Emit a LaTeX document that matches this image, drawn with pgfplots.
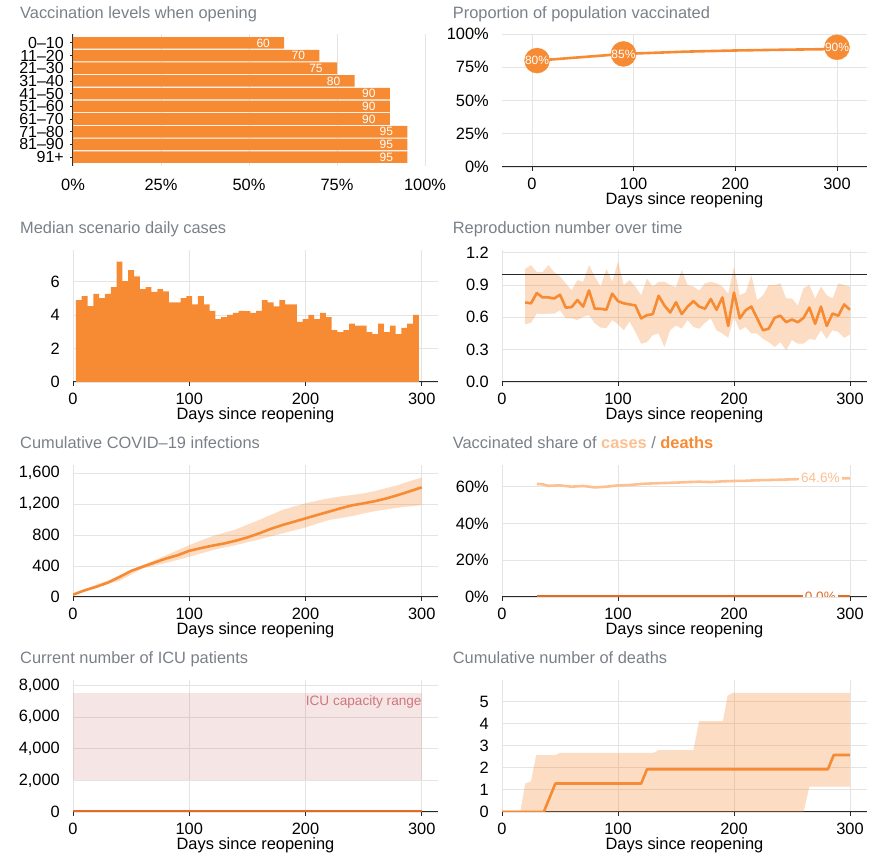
\documentclass[border=0pt]{standalone}
\usepackage{fontspec}
\setmainfont{Liberation Sans}
\usepackage{pgfplots}
\usepackage{pgfplotstable}
\pgfplotsset{compat=1.18}
\usepgfplotslibrary{fillbetween}

\definecolor{orng}{RGB}{246,139,52}
\definecolor{deathorng}{RGB}{226,108,36}
\definecolor{lightorng}{RGB}{252,192,145}
\definecolor{titlegray}{RGB}{122,128,136}
\definecolor{gridgray}{RGB}{228,228,228}
\definecolor{axisdark}{RGB}{40,40,40}
\definecolor{icufill}{RGB}{196,96,96}
\definecolor{icutext}{RGB}{205,118,124}

\newcommand{\mainsize}{\fontsize{16.4}{17}\selectfont}
\newcommand{\agesize}{\fontsize{16}{16}\selectfont}
\newcommand{\valsize}{\fontsize{12}{13}\selectfont}
\newcommand{\notesize}{\fontsize{13.6}{15}\selectfont}

% median scenario daily cases, 5-day bins (left edge, cases)
\pgfplotstableread{
x y
2.5 4.90
7.5 5.14
12.5 4.54
17.5 5.28
22.5 5.02
27.5 5.28
32.5 5.68
37.5 7.20
42.5 6.04
47.5 6.70
52.5 6.32
57.5 5.56
62.5 5.68
67.5 5.40
72.5 5.56
77.5 5.42
82.5 4.76
87.5 4.76
92.5 5.02
97.5 5.14
102.5 4.64
107.5 5.14
112.5 4.64
117.5 4.26
122.5 3.76
127.5 3.88
132.5 4.02
137.5 4.14
142.5 4.26
147.5 4.24
152.5 4.14
157.5 4.26
162.5 4.90
167.5 4.76
172.5 4.52
177.5 4.90
182.5 4.64
187.5 4.64
192.5 3.60
197.5 3.76
202.5 4.02
207.5 3.76
212.5 4.14
217.5 3.88
222.5 3.10
227.5 2.98
232.5 3.10
237.5 3.50
242.5 3.38
247.5 3.38
252.5 2.98
257.5 2.86
262.5 3.50
267.5 2.98
272.5 3.38
277.5 2.86
282.5 3.24
287.5 3.50
292.5 4.02
297.5 4.02
}\dailycases

% reproduction number: lower bound, median, upper bound
\pgfplotstableread{
day lo med hi
20 0.535 0.738 1.050
25 0.550 0.730 1.085
30 0.635 0.825 1.020
35 0.630 0.785 1.020
40 0.635 0.785 1.085
45 0.635 0.775 1.020
50 0.665 0.810 0.980
55 0.590 0.690 0.915
60 0.590 0.695 0.850
65 0.575 0.760 0.945
70 0.605 0.700 0.930
75 0.620 0.850 1.085
80 0.545 0.680 0.980
85 0.505 0.680 0.885
90 0.500 0.670 1.050
95 0.575 0.820 0.930
100 0.535 0.750 1.120
105 0.480 0.730 0.900
110 0.560 0.720 0.945
115 0.465 0.710 0.885
120 0.355 0.590 0.805
125 0.370 0.620 0.960
130 0.435 0.630 0.885
135 0.450 0.800 0.930
140 0.325 0.710 0.930
145 0.480 0.645 0.900
150 0.525 0.740 0.880
155 0.495 0.630 1.040
160 0.575 0.700 0.900
165 0.510 0.750 0.885
170 0.495 0.700 0.850
175 0.550 0.680 0.915
180 0.590 0.770 0.930
185 0.480 0.670 0.915
190 0.450 0.785 0.885
195 0.410 0.520 0.820
200 0.600 0.830 1.070
205 0.480 0.590 0.805
210 0.510 0.665 0.830
215 0.450 0.700 0.990
220 0.450 0.590 0.760
225 0.400 0.480 0.805
230 0.370 0.495 0.900
235 0.325 0.595 0.900
240 0.370 0.615 0.915
245 0.295 0.555 0.775
250 0.390 0.580 0.775
255 0.355 0.555 0.710
260 0.355 0.595 0.870
265 0.400 0.690 0.900
270 0.390 0.540 0.775
275 0.480 0.700 0.885
280 0.400 0.520 0.805
285 0.480 0.635 0.775
290 0.465 0.615 0.915
295 0.410 0.720 0.900
300 0.440 0.670 0.885
}\repro

% cumulative infections: lower bound, median, upper bound
\pgfplotstableread{
day lo med hi
0 22 30 45
10 70 86 95
20 120 132 160
30 170 185 215
40 208 259 270
50 290 337 345
60 368 392 411
70 405 445 475
80 441 497 540
90 480 540 605
100 519 597 670
110 562 632 730
120 605 664 787
130 640 692 830
140 670 728 873
150 707 770 935
160 744 822 995
170 783 880 1060
180 822 930 1124
190 860 973 1170
200 899 1016 1211
210 947 1060 1245
220 995 1103 1276
230 1020 1146 1300
240 1046 1185 1319
250 1080 1211 1340
260 1111 1240 1371
270 1133 1276 1410
280 1155 1320 1449
290 1172 1368 1500
300 1189 1418 1544
}\cuminf

% vaccinated share of cases (%)
\pgfplotstableread{
day share
30 61.5
35 61.3
40 60.5
50 60.7
60 60.0
70 60.4
80 59.6
90 60.0
100 60.7
110 60.9
120 61.5
130 61.8
140 62.0
150 62.2
160 62.5
170 62.7
180 62.5
190 62.9
200 63.1
210 63.2
220 63.5
230 63.6
240 63.8
250 64.0
260 64.2
270 64.4
280 64.5
290 64.6
300 64.6
}\casesshare

% cumulative deaths: median, upper and lower bounds
\pgfplotstableread{
day val
0 0
36 0
46 1.29
120 1.29
125 1.935
281 1.935
286 2.58
300 2.58
}\deathmed
\pgfplotstableread{
day val
0 0.07
16 0.07
20 1.29
25 1.39
29.5 2.58
46 2.58
50 2.68
130.5 2.68
135 2.80
165 2.80
170 4.12
190.5 4.12
194.5 5.27
199 5.40
300 5.40
}\deathhi
\pgfplotstableread{
day val
0 0
260 0
265 1.15
300 1.15
}\deathlo

\pgfplotsset{
  /pgf/number format/assume math mode=true,
  covidpanel/.style={
    scale only axis, anchor=south west,
    width=365pt, height=132pt,
    font=\mainsize,
    axis x line=bottom, axis y line=left,
    x axis line style={-, draw=axisdark, line width=1pt},
    y axis line style={-, draw=none},
    grid=major, grid style={draw=gridgray, line width=0.9pt},
    tick align=outside,
    major tick length=4pt,
    xtick style={draw=axisdark, line width=0.8pt},
    ytick style={draw=none},
    xtick={0,100,200,300}, xticklabels={0,100,200,300},
    xticklabel style={anchor=base, yshift=-19pt, inner sep=0pt},
    yticklabel style={anchor=east, xshift=-9pt, inner sep=0pt},
    xlabel={Days since reopening},
    xlabel style={at={(axis description cs:0.5,0)}, anchor=base, yshift=-38pt, inner sep=0pt},
    xmin=0, xmax=314.5, ymin=0,
  },
}
\tikzset{paneltitle/.style={anchor=base west, text=titlegray, font=\mainsize, inner sep=0pt}}

\begin{document}
\begin{tikzpicture}

% ---- vaccination levels by age group
\begin{axis}[
  scale only axis, anchor=south west, at={(73pt,692pt)},
  width=352pt, height=132pt, font=\mainsize,
  xbar, bar width=11.6pt,
  xmin=0, xmax=100, ymin=-0.7, ymax=9.7,
  axis x line=bottom, axis y line=left,
  x axis line style={draw=none},
  y axis line style={-, draw=axisdark, line width=1pt},
  xmajorgrids, ymajorgrids=false,
  grid style={draw=gridgray, line width=0.9pt},
  xtick={0,25,50,75,100}, xticklabels={0\%,25\%,50\%,75\%,100\%},
  xtick style={draw=none},
  ytick={0,...,9},
  yticklabels={91+,81--90,71--80,61--70,51--60,41--50,31--40,21--30,11--20,0--10},
  tick align=outside, major tick length=3pt,
  ytick style={draw=axisdark, line width=0.8pt},
  xticklabel style={anchor=base, yshift=-22pt, inner sep=0pt},
  yticklabel style={anchor=east, xshift=-6pt, inner sep=0pt, font=\agesize},
]
\addplot[fill=orng, draw=none, nodes near coords, nodes near coords align={center},
  every node near coord/.append style={xshift=-21pt, text=white, font=\valsize}]
  coordinates {(60,9) (70,8) (75,7) (80,6) (90,5) (90,4) (90,3) (95,2) (95,1) (95,0)};
\end{axis}
\node[paneltitle] at (20pt,839.7pt) {Vaccination levels when opening};

% ---- proportion of population vaccinated
\begin{axis}[covidpanel, at={(502pt,691pt)}, height=133pt,
  xmin=-29.5, xmax=329.5, ymax=100,
  ytick={0,25,50,75,100}, yticklabels={0\%,25\%,50\%,75\%,100\%},
]
\addplot[orng, line width=2.6pt, line join=round] coordinates
  {(5,80) (90,85) (150,86.7) (200,87.6) (250,88.2) (300,88.7)};
\addplot[only marks, mark=*, mark size=12.5pt, color=orng,
  point meta=y,
  nodes near coords={\pgfmathprintnumber[fixed,precision=0]{\pgfplotspointmeta}\%},
  nodes near coords align={center},
  every node near coord/.append style={text=white, font=\valsize}]
  coordinates {(5,80) (90,85) (300,90)};
\end{axis}
\node[paneltitle] at (452.7pt,839.7pt) {Proportion of population vaccinated};

% ---- median scenario daily cases
\begin{axis}[covidpanel, at={(73pt,476pt)}, xmax=314,
  ymax=7.9, ytick={0,2,4,6}, yticklabels={0,2,4,6}]
\addplot[const plot, fill=orng, draw=none] table[x=x, y=y] {\dailycases} \closedcycle;
\end{axis}
\node[paneltitle] at (20pt,624.7pt) {Median scenario daily cases};

% ---- reproduction number
\begin{axis}[covidpanel, at={(502pt,476pt)}, xmax=314.7,
  ymax=1.225, ytick={0,0.3,0.6,0.9,1.2}, yticklabels={0.0,0.3,0.6,0.9,1.2}]
\addplot[name path=rlo, draw=none, forget plot] table[x=day, y=lo] {\repro};
\addplot[name path=rhi, draw=none, forget plot] table[x=day, y=hi] {\repro};
\addplot[fill=orng, fill opacity=0.3, draw=none] fill between[of=rlo and rhi];
\addplot[axisdark, line width=1.2pt] coordinates {(0,1) (314.7,1)};
\addplot[orng, line width=2.6pt, line join=round] table[x=day, y=med] {\repro};
\end{axis}
\node[paneltitle] at (452.7pt,624.7pt) {Reproduction number over time};

% ---- cumulative infections
\begin{axis}[covidpanel, at={(73pt,261pt)}, xmax=314,
  ymax=1707, ytick={0,400,800,1200,1600}, yticklabels={0,400,800,{1,200},{1,600}}]
\addplot[name path=clo, draw=none, forget plot] table[x=day, y=lo] {\cuminf};
\addplot[name path=chi, draw=none, forget plot] table[x=day, y=hi] {\cuminf};
\addplot[fill=orng, fill opacity=0.3, draw=none] fill between[of=clo and chi];
\addplot[orng, line width=2.6pt, line join=round] table[x=day, y=med] {\cuminf};
\end{axis}
\node[paneltitle] at (20pt,409.7pt) {Cumulative COVID--19 infections};

% ---- vaccinated share of cases and deaths
\begin{axis}[covidpanel, at={(502pt,261pt)}, xmax=314.7,
  ymax=71.8, ytick={0,20,40,60}, yticklabels={0\%,20\%,40\%,60\%}]
\addplot[lightorng, line width=2.6pt, line join=round] table[x=day, y=share] {\casesshare};
\addplot[deathorng, line width=3pt] coordinates {(30,0) (300,0)};
\node[fill=white, text=lightorng, font=\notesize, inner sep=2pt] at (axis cs:274.5,64.6) {64.6\%};
\begin{scope}
  \clip (axis cs:0,0.35) rectangle (axis cs:314.7,71.8);
  \node[fill=white, text=deathorng, font=\notesize, inner sep=2pt] at (axis cs:274.5,0) {0.0\%};
\end{scope}
\end{axis}
\node[paneltitle] at (452.7pt,409.7pt) {Vaccinated share of
  {\bfseries\color{lightorng}cases} / {\bfseries\color{orng}deaths}};

% ---- ICU occupancy
\begin{axis}[covidpanel, at={(73pt,46pt)}, xmax=314,
  ymax=8361, ytick={0,2000,4000,6000,8000},
  yticklabels={0,{2,000},{4,000},{6,000},{8,000}}]
\addplot[name path=ilo, draw=none, forget plot] coordinates {(0,2050) (300,2050)};
\addplot[name path=ihi, draw=none, forget plot] coordinates {(0,7550) (300,7550)};
\addplot[fill=icufill, fill opacity=0.16, draw=none] fill between[of=ilo and ihi];
\addplot[deathorng, line width=3pt] coordinates {(0,0) (300,0)};
\node[anchor=base east, text=icutext, font=\notesize, inner sep=0pt] at (axis cs:300,6777) {ICU capacity range};
\end{axis}
\node[paneltitle] at (20pt,194.7pt) {Current number of ICU patients};

% ---- cumulative deaths
\begin{axis}[covidpanel, at={(502pt,46pt)}, xmax=314.7,
  ymax=5.98, ytick={0,1,2,3,4,5}, yticklabels={0,1,2,3,4,5}]
\addplot[name path=dlo, draw=none, forget plot] table[x=day, y=val] {\deathlo};
\addplot[name path=dhi, draw=none, forget plot] table[x=day, y=val] {\deathhi};
\addplot[fill=orng, fill opacity=0.3, draw=none] fill between[of=dlo and dhi];
\addplot[orng, line width=2.6pt, line join=round] table[x=day, y=val] {\deathmed};
\end{axis}
\node[paneltitle] at (452.7pt,194.7pt) {Cumulative number of deaths};

% fixed page frame
\pgfresetboundingbox
\useasboundingbox (0,0) rectangle (879pt,858pt);
\end{tikzpicture}
\end{document}
